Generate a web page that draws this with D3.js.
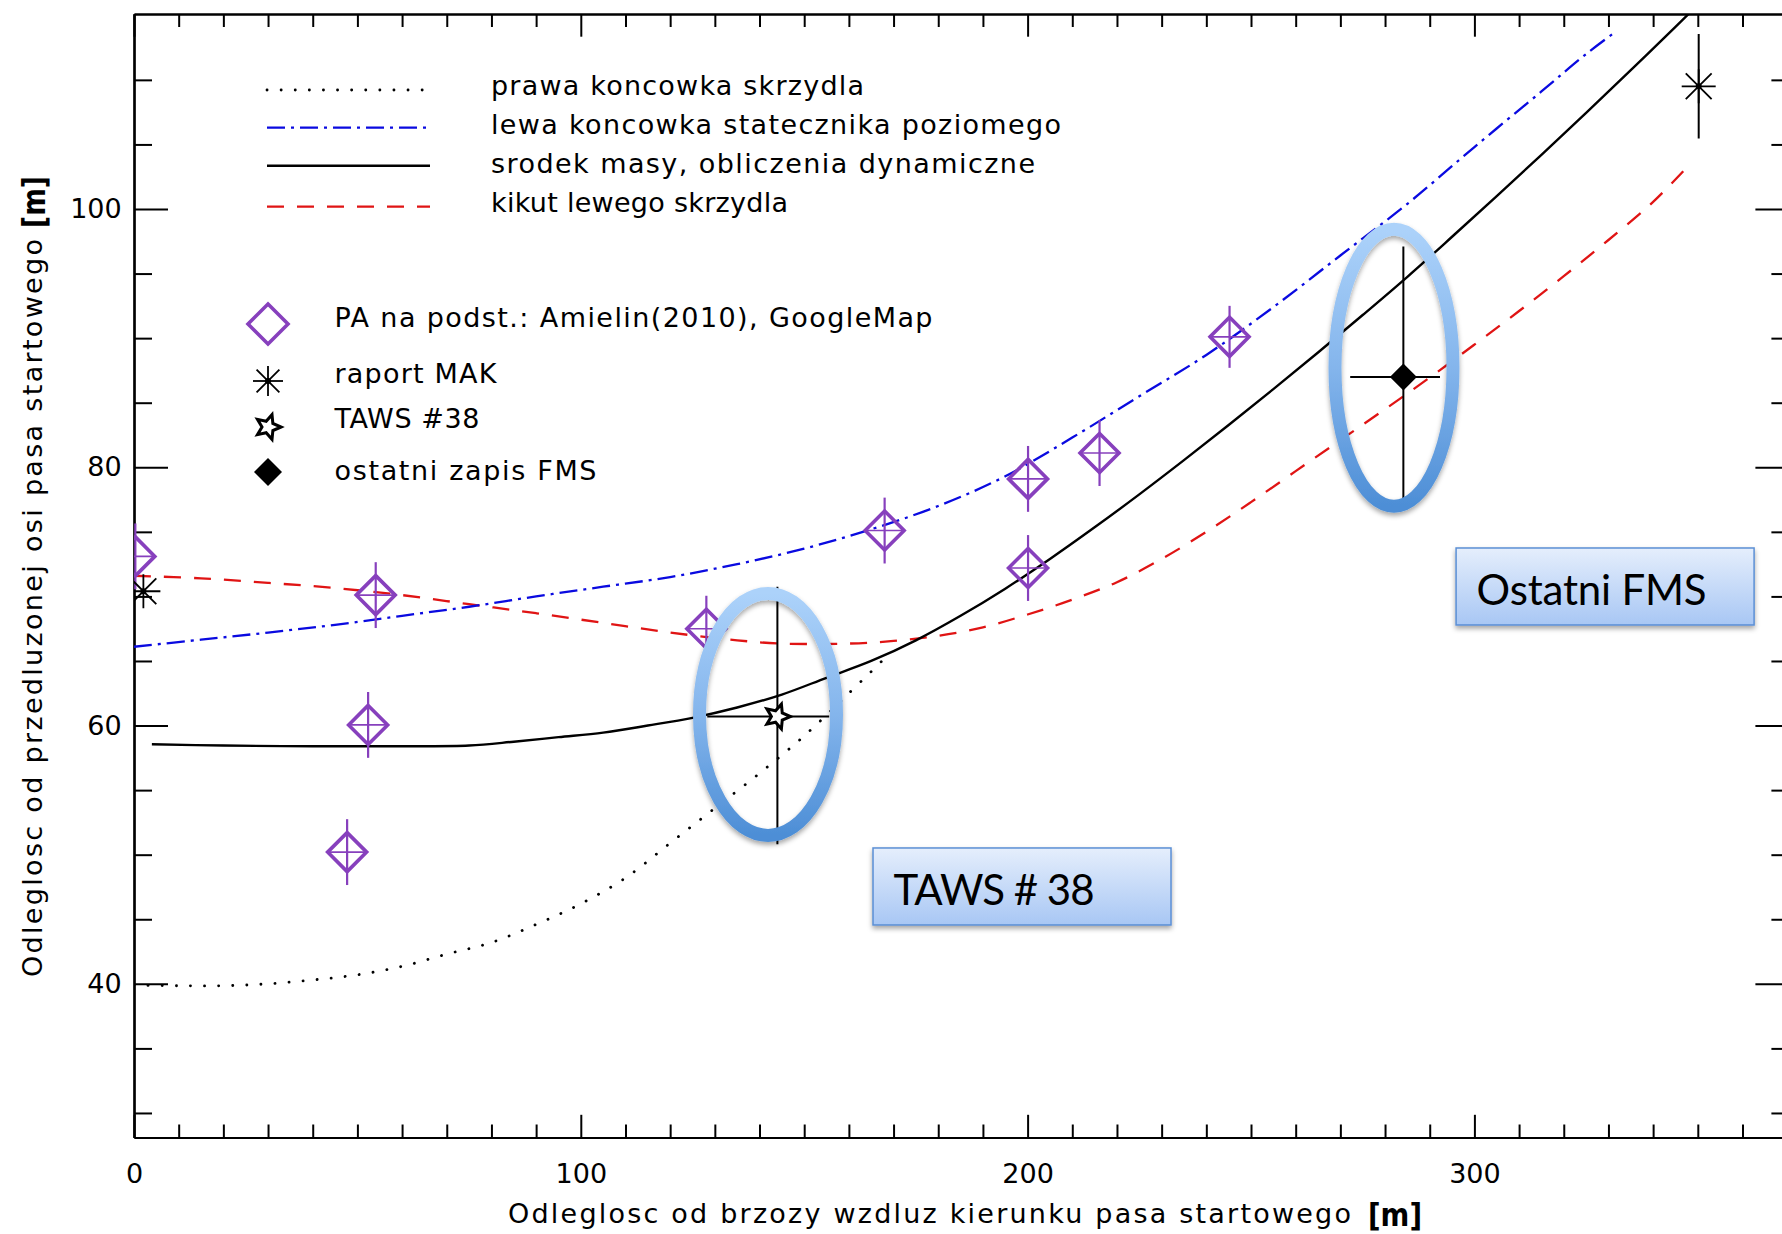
<!DOCTYPE html>
<html>
<head>
<meta charset="utf-8">
<script src="https://cdn.jsdelivr.net/npm/d3@7"></script>
<style>
  html, body { margin: 0; padding: 0; background: #fff; }
  svg { display: block; }
</style>
</head>
<body>
<svg id="chart" width="1782" height="1234"></svg>
<script>
// ---- Trajectory curves: x = distance from the birch along runway direction [m],
//      y = offset from the extended runway centre line [m]
const rightWingTipX = [0, 10, 20, 30, 40, 50, 60, 70, 80, 90, 100, 110, 120, 130, 140, 150, 160, 168];
const rightWingTipY = [39.9, 39.85, 39.85, 40.0, 40.3, 40.7, 41.35, 42.3, 43.2, 44.6, 46.2, 48.2, 50.9, 53.6, 56.3, 59.2, 62.5, 65.2];

const stabilizerTipX = [0, 15, 30, 45, 60, 75, 90, 105, 120, 135, 150, 165, 180, 195, 210, 225, 240, 255, 270, 285, 300, 315, 325, 331.5];
const stabilizerTipY = [66.1, 66.65, 67.2, 67.8, 68.5, 69.2, 70.0, 70.75, 71.5, 72.5, 73.7, 75.2, 77.0, 79.3, 82.3, 85.5, 88.7, 92.4, 96.4, 100.4, 104.8, 109.1, 112.0, 113.7];

const centreOfMassX = [4, 20, 40, 60, 75, 85, 95, 105, 115, 125, 135, 145, 155, 165, 175, 185, 195, 205, 215, 225, 235, 245, 255, 265, 275, 285, 295, 305, 315, 325, 335, 345, 348.5];
const centreOfMassY = [58.55, 58.45, 58.4, 58.4, 58.45, 58.75, 59.1, 59.45, 60.0, 60.6, 61.4, 62.4, 63.7, 65.0, 66.6, 68.5, 70.6, 72.9, 75.35, 77.9, 80.55, 83.27, 86.05, 88.89, 91.79, 94.75, 97.85, 101.0, 104.2, 107.45, 110.75, 114.1, 115.3];

const wingStubX = [0, 15, 30, 45, 60, 75, 90, 105, 120, 135, 145, 160, 170, 180, 190, 200, 210, 220, 230, 240, 250, 260, 270, 280, 290, 300, 310, 320, 330, 340, 347.5];
const wingStubY = [71.6, 71.4, 71.05, 70.65, 70.1, 69.4, 68.7, 67.95, 67.2, 66.6, 66.35, 66.35, 66.55, 66.95, 67.6, 68.6, 69.75, 71.1, 72.9, 75.0, 77.3, 79.7, 82.1, 84.5, 86.95, 89.5, 92.1, 94.8, 97.6, 100.55, 103.2];

// ---- Point observations
const paX   = [0.3, 47.7, 52.4, 54.1, 128.1, 168.0, 200.1, 200.1, 216.1, 245.2];
const paY   = [73.1, 50.2, 60.05, 70.1, 67.5, 75.1, 79.1, 72.2, 81.1, 90.1];
const paErr = [2.55, 2.55, 2.55, 2.55, 2.55, 2.55, 2.55, 2.55, 2.55, 2.4];

const makX   = [2.1, 350.2];
const makY   = [70.4, 109.5];
const makErr = [0, 4.05];

const tawsX = [144.0], tawsY = [60.7];
const tawsXLo = [128.3], tawsXHi = [155.6];
const tawsYLo = [50.8],  tawsYHi = [70.75];

const fmsX = [284.1], fmsY = [87.0];
const fmsXLo = [272.2], fmsXHi = [292.3];
const fmsYLo = [77.5],  fmsYHi = [97.1];

// ---- Axis ticks and texts
const xMajorTicks = [0, 100, 200, 300];
const yMajorTicks = [40, 60, 80, 100];
const xTitle = "Odleglosc od brzozy wzdluz kierunku pasa startowego";
const yTitle = "Odleglosc od przedluzonej osi pasa startowego";
const unitLabel = "[m]";

const lineLegend = ["prawa koncowka skrzydla", "lewa koncowka statecznika poziomego",
                    "srodek masy, obliczenia dynamiczne", "kikut lewego skrzydla"];
const symbolLegend = ["PA na podst.: Amielin(2010), GoogleMap", "raport MAK", "TAWS #38", "ostatni zapis FMS"];
const calloutLabels = ["TAWS # 38", "Ostatni FMS"];

// =====================================================================
const svg = d3.select("#chart");
const HERSHEY = "'DejaVu Sans', 'Liberation Sans', sans-serif";
const OFFICE = "Lato, 'Open Sans', 'Liberation Sans', sans-serif";
const PURPLE = "#8740bd", RED = "#e01414", BLUE = "#0a0ae0";

const x = d3.scaleLinear().domain([0, 370.5]).range([134, 1789.4]);
const y = d3.scaleLinear().domain([28.1, 115.1]).range([1137.5, 14]);
const [xL, xR] = x.range();
const [yB, yT] = y.range();

const defs = svg.append("defs");
defs.append("clipPath").attr("id", "plotClip")
  .append("rect").attr("x", xL).attr("y", yT).attr("width", xR - xL).attr("height", yB - yT);

const ringGrad = defs.append("linearGradient").attr("id", "ringGrad")
  .attr("x1", 0).attr("y1", 0).attr("x2", 0).attr("y2", 1);
ringGrad.append("stop").attr("offset", 0).attr("stop-color", "#acd2fa");
ringGrad.append("stop").attr("offset", 0.5).attr("stop-color", "#84b5ec");
ringGrad.append("stop").attr("offset", 1).attr("stop-color", "#4d8ed6");

const boxGrad = defs.append("linearGradient").attr("id", "boxGrad")
  .attr("x1", 0).attr("y1", 0).attr("x2", 0).attr("y2", 1);
boxGrad.append("stop").attr("offset", 0).attr("stop-color", "#e5eefc");
boxGrad.append("stop").attr("offset", 1).attr("stop-color", "#a8c7f4");

const shadow = defs.append("filter").attr("id", "softShadow")
  .attr("x", "-20%").attr("y", "-20%").attr("width", "140%").attr("height", "140%");
shadow.append("feDropShadow").attr("dx", 0).attr("dy", 3).attr("stdDeviation", 2.5)
  .attr("flood-color", "#000").attr("flood-opacity", 0.35);

// ---------------- Axes (ticks pointing inwards on all four sides)
function styleAxis(g, labels) {
  g.attr("font-family", HERSHEY).attr("font-size", 27);
  g.select(".domain").attr("stroke", "#000").attr("stroke-width", 2.2);
  g.selectAll(".tick line").attr("stroke", "#000").attr("stroke-width", 2);
  g.selectAll(".tick text").attr("fill", "#000");
  if (!labels) g.selectAll(".tick text").remove();
}
const xMinor = d3.range(10, 371, 10).filter(v => v % 100 !== 0);
const yMinor = d3.range(30, 115, 5).filter(v => v % 20 !== 0);

svg.append("g").attr("transform", `translate(0,${yB})`)
  .call(d3.axisBottom(x).tickValues(xMajorTicks).tickSize(-22.7).tickSizeOuter(0).tickPadding(26).tickFormat(d3.format("d")))
  .call(g => styleAxis(g, true));
svg.append("g").attr("transform", `translate(0,${yB})`)
  .call(d3.axisBottom(x).tickValues(xMinor).tickSize(-13).tickSizeOuter(0))
  .call(g => styleAxis(g, false));
svg.append("g").attr("transform", `translate(0,${yT})`)
  .call(d3.axisTop(x).tickValues(xMajorTicks).tickSize(-22.7).tickSizeOuter(0))
  .call(g => styleAxis(g, false));
svg.append("g").attr("transform", `translate(0,${yT})`)
  .call(d3.axisTop(x).tickValues(xMinor).tickSize(-13).tickSizeOuter(0))
  .call(g => styleAxis(g, false));

svg.append("g").attr("transform", `translate(${xL},0)`)
  .call(d3.axisLeft(y).tickValues(yMajorTicks).tickSize(-34).tickSizeOuter(0).tickPadding(12.3).tickFormat(d3.format("d")))
  .call(g => styleAxis(g, true));
svg.append("g").attr("transform", `translate(${xL},0)`)
  .call(d3.axisLeft(y).tickValues(yMinor).tickSize(-18).tickSizeOuter(0))
  .call(g => styleAxis(g, false));
svg.append("g").attr("transform", `translate(${xR},0)`)
  .call(d3.axisRight(y).tickValues(yMajorTicks).tickSize(-34).tickSizeOuter(0))
  .call(g => styleAxis(g, false));
svg.append("g").attr("transform", `translate(${xR},0)`)
  .call(d3.axisRight(y).tickValues(yMinor).tickSize(-18).tickSizeOuter(0))
  .call(g => styleAxis(g, false));

// ---------------- Axis titles
const xt = svg.append("g").attr("font-family", HERSHEY).attr("fill", "#000");
xt.append("text").attr("x", 508).attr("y", 1223).attr("font-size", 27)
  .attr("textLength", 843).attr("lengthAdjust", "spacing").text(xTitle);
xt.append("text").attr("x", 1368).attr("y", 1226).attr("font-size", 32).attr("font-weight", "bold")
  .attr("textLength", 54).attr("lengthAdjust", "spacingAndGlyphs").text(unitLabel);

const yt = svg.append("g").attr("font-family", HERSHEY).attr("fill", "#000");
yt.append("text").attr("transform", "translate(42,977) rotate(-90)").attr("font-size", 27)
  .attr("textLength", 738).attr("lengthAdjust", "spacing").text(yTitle);
yt.append("text").attr("transform", "translate(45,228) rotate(-90)").attr("font-size", 32).attr("font-weight", "bold")
  .attr("textLength", 52).attr("lengthAdjust", "spacingAndGlyphs").text(unitLabel);

// ---------------- Curves
const curveStyles = [
  { xs: wingStubX, ys: wingStubY, color: RED, width: 2.3, dash: "17,13", cap: "butt" },
  { xs: stabilizerTipX, ys: stabilizerTipY, color: BLUE, width: 2.3, dash: "18,6,3,6", cap: "butt" },
  { xs: rightWingTipX, ys: rightWingTipY, color: "#000", width: 2.8, dash: "0.1,14", cap: "round" },
  { xs: centreOfMassX, ys: centreOfMassY, color: "#000", width: 2.4, dash: null, cap: "butt" }
];
const plot = svg.append("g").attr("clip-path", "url(#plotClip)");
const line = d3.line().x(d => x(d[0])).y(d => y(d[1])).curve(d3.curveCatmullRom.alpha(0.5));
curveStyles.forEach(s => {
  plot.append("path")
    .datum(s.xs.map((v, i) => [v, s.ys[i]]))
    .attr("d", line).attr("fill", "none")
    .attr("stroke", s.color).attr("stroke-width", s.width)
    .attr("stroke-dasharray", s.dash).attr("stroke-linecap", s.cap);
});

// ---------------- Marker helpers
function diamondPath(cx, cy, r) {
  return `M${cx},${cy - r}L${cx + r},${cy}L${cx},${cy + r}L${cx - r},${cy}Z`;
}
function drawAsterisk(g, cx, cy, r, w) {
  const d = r * 0.76;
  const segs = [[-r, 0, r, 0], [0, -r, 0, r], [-d, -d, d, d], [-d, d, d, -d]];
  segs.forEach(s => g.append("line")
    .attr("x1", cx + s[0]).attr("y1", cy + s[1]).attr("x2", cx + s[2]).attr("y2", cy + s[3])
    .attr("stroke", "#000").attr("stroke-width", w));
  g.append("circle").attr("cx", cx).attr("cy", cy).attr("r", 3).attr("fill", "#000");
}
function starPath(cx, cy, ro, ri) {
  const pts = [];
  for (let k = 0; k < 10; k++) {
    const a = k * Math.PI / 5;
    const r = k % 2 === 0 ? ro : ri;
    pts.push([cx + r * Math.cos(a), cy + r * Math.sin(a)]);
  }
  return "M" + pts.map(p => p.join(",")).join("L") + "Z";
}

// PA points with vertical uncertainty
const paG = plot.append("g");
paX.forEach((xv, i) => {
  const cx = x(xv), cy = y(paY[i]);
  paG.append("line").attr("x1", cx).attr("x2", cx)
    .attr("y1", y(paY[i] - paErr[i])).attr("y2", y(paY[i] + paErr[i]))
    .attr("stroke", PURPLE).attr("stroke-width", 2.2);
  paG.append("line").attr("x1", cx - 19).attr("x2", cx + 19).attr("y1", cy).attr("y2", cy)
    .attr("stroke", PURPLE).attr("stroke-width", 1.6);
  paG.append("path").attr("d", diamondPath(cx, cy, 19.5))
    .attr("fill", "none").attr("stroke", PURPLE).attr("stroke-width", 3.6);
});

// MAK report positions
const makG = plot.append("g");
makX.forEach((xv, i) => {
  const cx = x(xv), cy = y(makY[i]);
  if (makErr[i] > 0) {
    makG.append("line").attr("x1", cx).attr("x2", cx)
      .attr("y1", y(makY[i] - makErr[i])).attr("y2", y(makY[i] + makErr[i]))
      .attr("stroke", "#000").attr("stroke-width", 2);
  }
  drawAsterisk(makG, cx, cy, 17, 1.8);
});

// TAWS #38 with error cross
const tawsG = plot.append("g");
tawsX.forEach((xv, i) => {
  const cx = x(xv), cy = y(tawsY[i]);
  tawsG.append("line").attr("x1", cx).attr("x2", cx).attr("y1", y(tawsYLo[i])).attr("y2", y(tawsYHi[i]))
    .attr("stroke", "#000").attr("stroke-width", 2);
  tawsG.append("line").attr("x1", x(tawsXLo[i])).attr("x2", x(tawsXHi[i])).attr("y1", cy).attr("y2", cy)
    .attr("stroke", "#000").attr("stroke-width", 2);
  tawsG.append("path").attr("d", starPath(cx, cy, 13, 6))
    .attr("fill", "#fff").attr("stroke", "#000").attr("stroke-width", 3);
});

// last FMS record with error cross
const fmsG = plot.append("g");
fmsX.forEach((xv, i) => {
  const cx = x(xv), cy = y(fmsY[i]);
  fmsG.append("line").attr("x1", cx).attr("x2", cx).attr("y1", y(fmsYLo[i])).attr("y2", y(fmsYHi[i]))
    .attr("stroke", "#000").attr("stroke-width", 2);
  fmsG.append("line").attr("x1", x(fmsXLo[i])).attr("x2", x(fmsXHi[i])).attr("y1", cy).attr("y2", cy)
    .attr("stroke", "#000").attr("stroke-width", 2);
  fmsG.append("path").attr("d", diamondPath(cx, cy, 13.5)).attr("fill", "#000");
});

// ---------------- Legends
const lg = svg.append("g").attr("font-family", HERSHEY).attr("font-size", 27).attr("fill", "#000");
const lineLegendRows = [
  { lineY: 90, baseY: 95, len: 373 },
  { lineY: 127.7, baseY: 134, len: 570 },
  { lineY: 165.7, baseY: 172.5, len: 544 },
  { lineY: 206.7, baseY: 211.5, len: 297 }
];
const legendOrder = [2, 1, 3, 0]; // dotted, dash-dot, solid, dashed
lineLegend.forEach((label, i) => {
  const s = curveStyles[legendOrder[i]], r = lineLegendRows[i];
  lg.append("line").attr("x1", 267).attr("x2", 430).attr("y1", r.lineY).attr("y2", r.lineY)
    .attr("stroke", s.color).attr("stroke-width", s.width)
    .attr("stroke-dasharray", s.dash).attr("stroke-linecap", s.cap);
  lg.append("text").attr("x", 491).attr("y", r.baseY)
    .attr("textLength", r.len).attr("lengthAdjust", "spacing").text(label);
});

const symRows = [
  { symY: 324, baseY: 327, len: 598 },
  { symY: 381, baseY: 383, len: 162 },
  { symY: 427, baseY: 428, len: 145 },
  { symY: 472, baseY: 480, len: 262 }
];
const sx = 268;
lg.append("path").attr("d", diamondPath(sx, symRows[0].symY, 20))
  .attr("fill", "none").attr("stroke", PURPLE).attr("stroke-width", 3.6);
drawAsterisk(lg, sx, symRows[1].symY, 15, 1.8);
lg.append("path").attr("d", starPath(sx, symRows[2].symY, 13, 6))
  .attr("fill", "#fff").attr("stroke", "#000").attr("stroke-width", 3);
lg.append("path").attr("d", diamondPath(sx, symRows[3].symY, 14)).attr("fill", "#000");
symbolLegend.forEach((label, i) => {
  lg.append("text").attr("x", 334.5).attr("y", symRows[i].baseY)
    .attr("textLength", symRows[i].len).attr("lengthAdjust", "spacing").text(label);
});

// ---------------- Highlight rings and callout boxes
const rings = [
  { cx: 141.9, cy: 60.86, rx: 68.5, ry: 121 },
  { cx: 282.0, cy: 87.7, rx: 59, ry: 138.5 }
];
rings.forEach(r => {
  svg.append("ellipse").attr("cx", x(r.cx)).attr("cy", y(r.cy)).attr("rx", r.rx).attr("ry", r.ry)
    .attr("fill", "none").attr("stroke", "url(#ringGrad)").attr("stroke-width", 13)
    .attr("filter", "url(#softShadow)");
});

const callouts = [
  { x0: 165.4, y0: 50.52, label: calloutLabels[0], len: 201 },
  { x0: 295.9, y0: 73.75, label: calloutLabels[1], len: 230 }
];
callouts.forEach(c => {
  const bx = x(c.x0), by = y(c.y0);
  svg.append("rect").attr("x", bx).attr("y", by).attr("width", 298).attr("height", 77)
    .attr("fill", "url(#boxGrad)").attr("stroke", "#5b8fd5").attr("stroke-width", 1.5)
    .attr("filter", "url(#softShadow)");
  svg.append("text").attr("x", bx + 20.5).attr("y", by + 57.5)
    .attr("font-family", OFFICE).attr("font-size", 42).attr("fill", "#000")
    .attr("textLength", c.len).attr("lengthAdjust", "spacing").text(c.label);
});
</script>
</body>
</html>
